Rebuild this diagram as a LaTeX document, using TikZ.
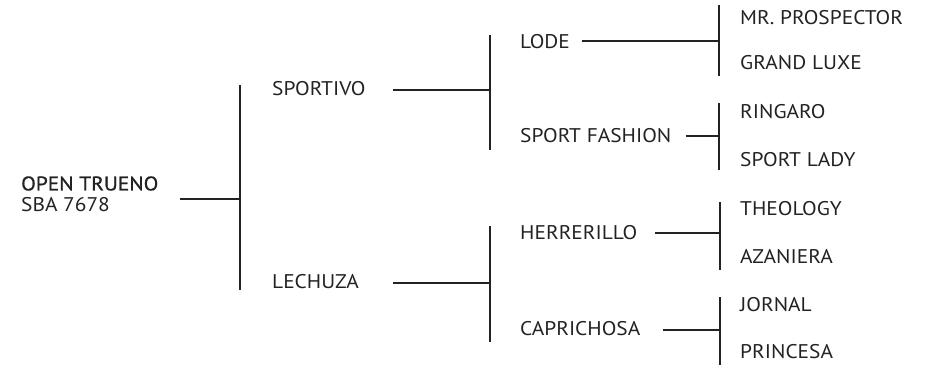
\documentclass[tikz,border=0pt]{standalone}
\usepackage{fontspec}
\setmainfont[FakeStretch=1.08]{PT Sans}
\newfontfamily\medfont[FakeStretch=1.08,FakeBold=0.8]{PT Sans}
\definecolor{ink}{HTML}{222222}
\begin{document}
\begin{tikzpicture}[x=1pt,y=-1pt,
  lbl/.style={anchor=west,inner sep=0pt,text=ink,font=\fontsize{19.8}{21}\selectfont},
  conn/.style={draw=ink,line width=1.1pt}]
\useasboundingbox (0,0) rectangle (925,365);
% root
\node[lbl,anchor=west,align=left] (root) at (21,194) {{\medfont OPEN TRUENO}\\SBA 7678};
% level 1
\node[lbl] (sportivo) at (272,89) {SPORTIVO};
\node[lbl] (lechuza) at (272,282) {LECHUZA};
% level 2
\node[lbl] (lode) at (520,42) {LODE};
\node[lbl] (sfashion) at (520,136) {SPORT FASHION};
\node[lbl] (herrerillo) at (520,233) {HERRERILLO};
\node[lbl] (caprichosa) at (520,329) {CAPRICHOSA};
% level 3
\node[lbl] (mr) at (740,18) {MR. PROSPECTOR};
\node[lbl] (gl) at (740,63) {GRAND LUXE};
\node[lbl] (ring) at (740,112) {RINGARO};
\node[lbl] (slady) at (740,160) {SPORT LADY};
\node[lbl] (theo) at (740,209) {THEOLOGY};
\node[lbl] (aza) at (740,257) {AZANIERA};
\node[lbl] (jornal) at (740,305) {JORNAL};
\node[lbl] (princesa) at (740,352) {PRINCESA};
% bars
\coordinate (b0t) at (240,85); \coordinate (b0b) at (240,290);
\coordinate (b1t) at (490,35); \coordinate (b1b) at (490,150);
\coordinate (b2t) at (490,226); \coordinate (b2b) at (490,342);
\coordinate (b3t) at (719,5); \coordinate (b3b) at (719,76);
\coordinate (b4t) at (719,103); \coordinate (b4b) at (719,170);
\coordinate (b5t) at (720,202); \coordinate (b5b) at (720,270);
\coordinate (b6t) at (720,297); \coordinate (b6b) at (720,365);
\foreach \a/\b in {b0t/b0b,b1t/b1b,b2t/b2b,b3t/b3b,b4t/b4b,b5t/b5b,b6t/b6b}
  \draw[conn] (\a) -- (\b);
% horizontals
\coordinate (h0) at (240,199);
\draw[conn] ([xshift=21pt]root.east |- h0) -- (h0);
\draw[conn] ([xshift=27pt]sportivo.east |- 0,90) -- (b1t |- 0,90);
\draw[conn] ([xshift=34pt]lechuza.east |- 0,283) -- (b2t |- 0,283);
\draw[conn] ([xshift=12pt]lode.east |- 0,41) -- (b3t |- 0,41);
\draw[conn] ([xshift=14pt]sfashion.east |- 0,136) -- (b4t |- 0,136);
\draw[conn] ([xshift=18pt]herrerillo.east |- 0,233) -- (b5t |- 0,233);
\draw[conn] ([xshift=22pt]caprichosa.east |- 0,330) -- (b6t |- 0,330);
\end{tikzpicture}
\end{document}
